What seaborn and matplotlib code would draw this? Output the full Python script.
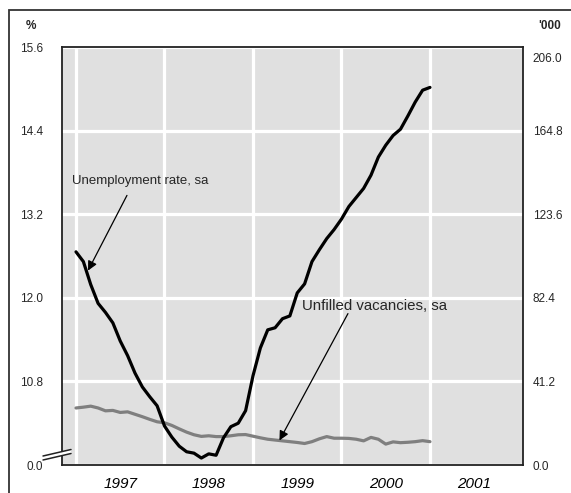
import numpy as np
import pandas as pd
import matplotlib.pyplot as plt
import seaborn as sns
from matplotlib.patches import Rectangle, Polygon
from matplotlib.lines import Line2D
from matplotlib.transforms import ScaledTranslation

# monthly observations, Jan 1997 - Jan 2001
dates = pd.date_range("1997-01-01", "2001-01-01", freq="MS")

unemployment = [12.66, 12.52, 12.19, 11.92, 11.79, 11.64, 11.38, 11.17, 10.92, 10.72,
                10.58, 10.45, 10.16, 10.00, 9.87, 9.79, 9.77, 9.70, 9.76, 9.74,
                9.99, 10.15, 10.20, 10.38, 10.88, 11.28, 11.54, 11.57, 11.70, 11.74,
                12.07, 12.20, 12.52, 12.69, 12.85, 12.98, 13.13, 13.31, 13.44, 13.57,
                13.76, 14.02, 14.19, 14.33, 14.42, 14.61, 14.81, 14.98, 15.02]

vacancies = [28.1, 28.5, 29.0, 28.1, 26.7, 26.9, 25.9, 26.2, 25.0, 23.8,
             22.5, 21.3, 20.8, 19.5, 17.8, 16.2, 14.9, 14.1, 14.4, 14.0,
             14.0, 14.4, 14.9, 15.0, 14.2, 13.4, 12.7, 12.3, 11.9, 11.5,
             11.1, 10.6, 11.5, 12.9, 14.0, 13.2, 13.2, 13.1, 12.7, 11.9,
             13.6, 12.7, 10.3, 11.4, 11.0, 11.2, 11.5, 12.0, 11.5]

left_ticks = [9.6, 10.8, 12.0, 13.2, 14.4, 15.6]
left_labels = ["0.0", "10.8", "12.0", "13.2", "14.4", "15.6"]
right_ticks = [0, 41.2, 82.4, 123.6, 164.8, 206.0]
right_labels = ["0.0", "41.2", "82.4", "123.6", "164.8", "206.0"]
year_starts = [1997, 1998, 1999, 2000, 2001]
year_labels = ["1997", "1998", "1999", "2000", "2001"]

df = pd.DataFrame({
    "year": dates.year + (dates.month - 1) / 12,
    "unemployment": unemployment,
    "vacancies": vacancies,
})

sns.set_style("darkgrid", {"axes.facecolor": "#e0e0e0", "grid.color": "white"})
plt.rcParams["font.family"] = ["Liberation Sans", "DejaVu Sans"]

W, H = 571, 493
fig = plt.figure(figsize=(W / 100, H / 100), dpi=100)
fig.patch.set_facecolor("white")

# bottom axes: background, grid, vacancies on right scale
ax = fig.add_axes([62 / W, 28 / H, 461 / W, 418 / H])
axL = ax.twinx()
ax.yaxis.tick_right()
axL.yaxis.tick_left()

sns.lineplot(data=df, x="year", y="vacancies", ax=ax, color="#7f7f7f", lw=2.3)
sns.lineplot(data=df, x="year", y="unemployment", ax=axL, color="black", lw=2.3)

for a in (ax, axL):
    a.set_xlabel("")
    a.set_ylabel("")

ax.set_xticks(year_starts)
ax.set_xticklabels([""] * len(year_starts))
ax.set_xticks([y + 0.5 for y in year_starts], minor=True)
ax.set_xticklabels(year_labels, minor=True, style="italic", fontsize=11)
ax.tick_params(axis="x", which="both", length=0, pad=9, colors="black")

ax.set_yticks(right_ticks)
ax.set_yticklabels(right_labels, fontsize=8.5)
ax.tick_params(axis="y", length=0, pad=7, labelright=True, labelleft=False)
axL.set_yticks(left_ticks)
axL.set_yticklabels(left_labels, fontsize=8.5)
axL.tick_params(axis="y", length=0, pad=13.5)

ax.set_xlim(1996.842, 2002.051)
ax.set_ylim(0, 206)
axL.set_ylim(9.6, 15.6)

ax.grid(True, which="major", color="white", lw=2.3)
axL.grid(False)
for s in ax.spines.values():
    s.set_visible(True)
    s.set_color("#222222")
    s.set_linewidth(1.3)
for s in axL.spines.values():
    s.set_visible(False)

# top right label sits a bit lower in the original
top_lab = ax.get_yticklabels()[-1]
top_lab.set_transform(top_lab.get_transform() + ScaledTranslation(0, -10 / 100, fig.dpi_scale_trans))

# annotations
axL.text(1996.955, 13.67, "Unemployment rate, sa", fontsize=9.5, va="center", ha="left")
axL.annotate("", xy=(1997.136, 12.39), xytext=(1997.576, 13.47),
             arrowprops=dict(arrowstyle="-|>", color="black", lw=0.9,
                             mutation_scale=14, shrinkA=0, shrinkB=0))
axL.text(1999.554, 11.888, "Unfilled vacancies, sa", fontsize=10.8, va="center", ha="left")
axL.annotate("", xy=(1999.299, 9.953), xytext=(2000.073, 11.773),
             arrowprops=dict(arrowstyle="-|>", color="black", lw=0.9,
                             mutation_scale=14, shrinkA=0, shrinkB=0))

# unit labels
fig.text(31 / W, 1 - 26 / H, "%", fontsize=8.5, fontweight="bold", ha="center", va="center")
fig.text(550 / W, 1 - 26 / H, "'000", fontsize=8.5, fontweight="bold", ha="center", va="center")

# outer frame
fig.add_artist(Rectangle((9 / W, -0.1), 1.2, 1.1 - 10 / H, transform=fig.transFigure,
                         fill=False, ec="#333333", lw=1.3))

# axis break marks on the left axis
def fp(px, py):
    return (px / W, 1 - py / H)

gap = Polygon([fp(43, 456), fp(71, 449.5), fp(71, 453.5), fp(43, 460)], closed=True,
              transform=fig.transFigure, fc="white", ec="none", zorder=10)
fig.add_artist(gap)
for dy in (0, 4):
    x0, y0 = fp(43, 456 + dy)
    x1, y1 = fp(71, 449.5 + dy)
    fig.add_artist(Line2D([x0, x1], [y0, y1], transform=fig.transFigure,
                          color="#222222", lw=1.1, zorder=11))

fig.savefig("out.png", dpi=100)
